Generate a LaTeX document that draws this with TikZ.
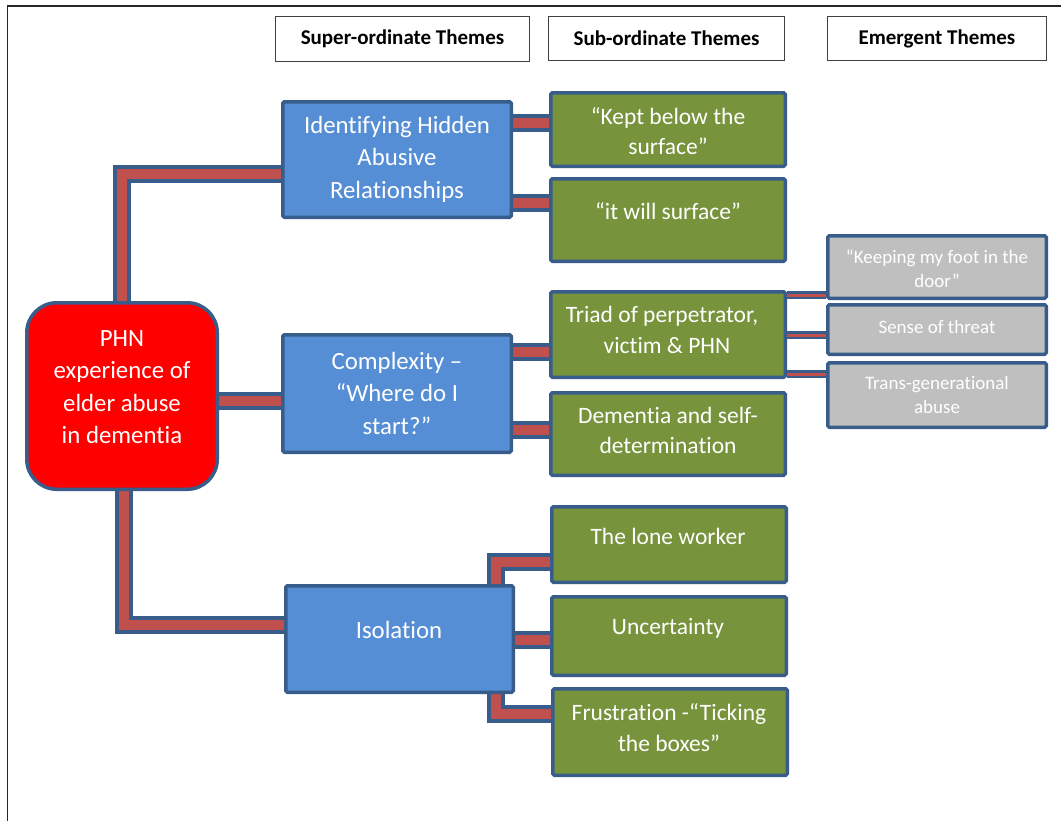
\documentclass[tikz,border=0pt]{standalone}
\usepackage{fontspec}
\setmainfont{Carlito}[RawFeature={-liga}]
\usetikzlibrary{backgrounds,calc}
\definecolor{bfill}{HTML}{558ED5}
\definecolor{oline}{HTML}{385D8A}
\definecolor{gfill}{HTML}{77933C}
\definecolor{grfill}{HTML}{BFBFBF}
\definecolor{cred}{HTML}{C0504D}
\definecolor{hline}{HTML}{404040}
\tikzset{
  shp/.style={draw=oline, line width=3.5pt, rounded corners=1.5pt, inner sep=0pt},
  bluebox/.style={shp, fill=bfill},
  greenbox/.style={shp, fill=gfill},
  greybox/.style={shp, fill=grfill},
  redbox/.style={shp, fill=red, rounded corners=30pt},
  headbox/.style={draw=hline, line width=1.2pt, fill=white, inner sep=0pt},
  bigtxt/.style={text=white, align=center, font=\fontsize{24.8}{32.5}\selectfont},
  midtxt/.style={text=white, align=center, font=\fontsize{23.5}{30.5}\selectfont},
  smalltxt/.style={text=white, align=center, font=\fontsize{19}{24}\selectfont},
  headtxt/.style={text=black, align=center, font=\fontsize{21}{24}\selectfont\bfseries},
  conn/.style={draw=cred, line width=10pt, preaction={draw=oline, line width=18pt}},
  thinconn/.style={draw=cred, line width=3pt, preaction={draw=oline, line width=7.5pt}},
}
\newcommand\shapebox[6]{%
  \node[#6, minimum width={#4-#2-3.5}, minimum height={#5-#3-3.5}] (#1) at ({(#2+#4)/2},{(#3+#5)/2}) {};}
\begin{document}
\begin{tikzpicture}[x=1pt,y=-1pt]
\useasboundingbox (0,0) rectangle (1061,820);

% header boxes
\node[headbox, minimum width=254pt, minimum height=45pt] (h1) at (402.5,39) {};
\node[headbox, minimum width=236pt, minimum height=44pt] (h2) at (666.5,38.5) {};
\node[headbox, minimum width=219pt, minimum height=44pt] (h3) at (937,38.5) {};
\node[headtxt] (h1t) at (h1.center) {Super-ordinate Themes};
\node[headtxt] (h2t) at (h2.center) {Sub-ordinate Themes};
\node[headtxt] (h3t) at (h3.center) {Emergent Themes};

% main node
\shapebox{red}{25}{301}{219}{491}{redbox}
\node[bigtxt] (redt) at (122,387) {PHN\\experience of\\elder abuse\\in dementia};

% super-ordinate
\shapebox{b1}{281}{100}{513}{219}{bluebox}
\shapebox{b2}{281}{333}{513}{454}{bluebox}
\shapebox{b3}{284}{584}{515}{694}{bluebox}
\node[bigtxt] (b1t) at (397,159) {Identifying Hidden\\Abusive\\Relationships};
\node[bigtxt] (b2t) at (397,393) {Complexity --\\“Where do I\\start?”};
\node[bigtxt] (b3t) at (399,630) {Isolation};

% sub-ordinate
\shapebox{g1}{549}{91}{787}{168}{greenbox}
\shapebox{g2}{549}{177}{787}{263}{greenbox}
\shapebox{g3}{549}{290}{787}{379}{greenbox}
\shapebox{g4}{549}{391}{787}{477}{greenbox}
\shapebox{g5}{550}{505}{788}{584}{greenbox}
\shapebox{g6}{550}{595}{788}{677}{greenbox}
\shapebox{g7}{551}{687}{789}{777}{greenbox}
\node[midtxt] (g1t) at (668,131) {“Kept below the\\surface”};
\node[midtxt] (g2t) at (668,211) {“it will surface”};
\node[midtxt] (g3t) at (662,330) {Triad of perpetrator,\\\hspace*{10pt}victim \& PHN};
\node[midtxt] (g4t) at (668,430.5) {Dementia and self-\\determination};
\node[midtxt] (g5t) at (668,536) {The lone worker};
\node[midtxt] (g6t) at (668,628) {Uncertainty};
\node[midtxt] (g7t) at (669,727.5) {Frustration -“Ticking\\the boxes”};

% emergent
\shapebox{e1}{826}{234}{1048}{300}{greybox}
\shapebox{e2}{826}{303}{1048}{356}{greybox}
\shapebox{e3}{826}{361}{1048}{429}{greybox}
\node[smalltxt] (e1t) at (937,269) {“Keeping my foot in the\\door”};
\node[smalltxt] (e2t) at (937,327) {Sense of threat};
\node[smalltxt] (e3t) at (937,395) {Trans-generational\\abuse};

% background, frame and connectors
\begin{scope}[on background layer]
\fill[white] (0,0) rectangle (1061,820);
\draw[line width=1.6pt, black!85] (7.5,840) -- (7.5,6) -- (1080,6);
\draw[conn] (red.north) |- ([yshift=-14.5pt]b1.west);
\draw[conn] ([yshift=-5pt]red.east) -- ([yshift=-5pt]red.east -| b2.west);
\draw[conn] ([xshift=1.5pt]red.south) |- ([yshift=14pt]b3.west);
\draw[conn] ([yshift=6.5pt]g1.west -| b1.east) -- ([yshift=6.5pt]g1.west);
\draw[conn] ([yshift=17.5pt]g2.west -| b1.east) -- ([yshift=17.5pt]g2.west);
\draw[conn] ([yshift=-17.5pt]g3.west -| b2.east) -- ([yshift=-17.5pt]g3.west);
\draw[conn] ([yshift=4pt]g4.west -| b2.east) -- ([yshift=4pt]g4.west);
\draw[conn] ([xshift=96pt]b3.north) |- ([yshift=-17.5pt]g5.west);
\draw[conn] ([yshift=-4pt]g6.west -| b3.east) -- ([yshift=-4pt]g6.west);
\draw[conn] ([xshift=96pt]b3.south) |- ([yshift=18pt]g7.west);
\draw[thinconn] ([yshift=39.5pt]g3.east) -- ([yshift=39.5pt]g3.east -| e1.west);
\draw[thinconn] ([yshift=-0.5pt]g3.east) -- ([yshift=-0.5pt]g3.east -| e2.west);
\draw[thinconn] ([yshift=-39.5pt]g3.east) -- ([yshift=-39.5pt]g3.east -| e3.west);
\end{scope}
\end{tikzpicture}
\end{document}
